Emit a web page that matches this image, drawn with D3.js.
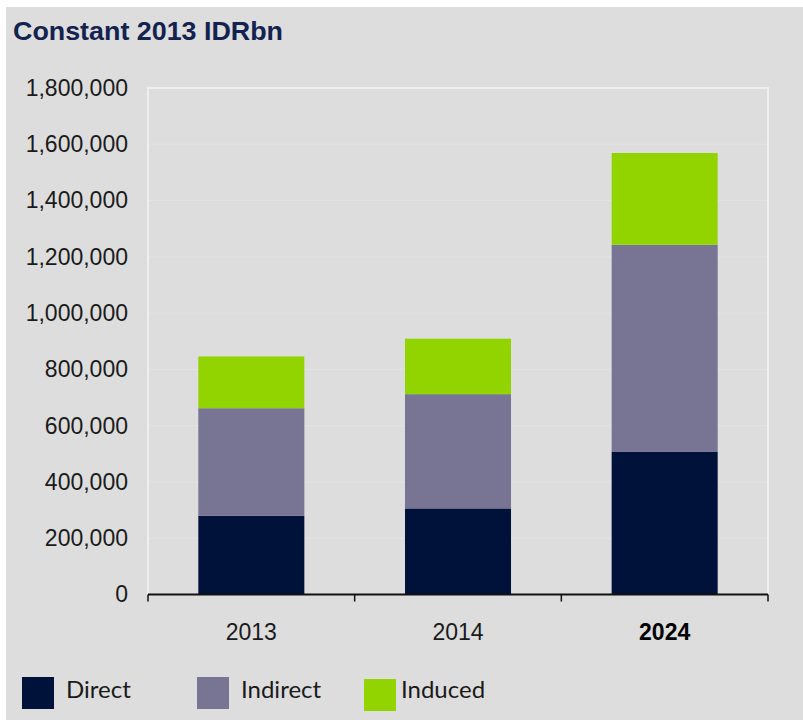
<!DOCTYPE html>
<html>
<head>
<meta charset="utf-8">
<script src="https://cdn.jsdelivr.net/npm/d3@7"></script>
<style>
  body { margin: 0; background: #fff; }
</style>
</head>
<body>
<div id="chart"></div>
<script>
// Values (IDR bn, constant 2013 prices)
const years = ["2013", "2014", "2024"];
const direct = [280000, 306000, 508000];
const indirect = [382000, 406000, 735000];
const induced = [184000, 197000, 326000];
const yTicks = [0, 200000, 400000, 600000, 800000, 1000000, 1200000, 1400000, 1600000, 1800000];

const seriesNames = ["Direct", "Indirect", "Induced"];
const colors = { Direct: "#00113a", Indirect: "#787494", Induced: "#92d400" };

const rows = years.map((y, i) => ({ year: y, Direct: direct[i], Indirect: indirect[i], Induced: induced[i] }));

const W = 803, H = 720;
const plot = { left: 148, right: 768, top: 88, bottom: 594.5 };

const svg = d3.select("#chart").append("svg")
  .attr("width", W)
  .attr("height", H);

// grey panel
svg.append("rect")
  .attr("x", 6).attr("y", 7)
  .attr("width", W - 6).attr("height", H - 7)
  .attr("fill", "#dddddd");

// title
svg.append("text")
  .attr("x", 13).attr("y", 40)
  .attr("font-family", "Liberation Sans, Arial, sans-serif")
  .attr("font-weight", "bold")
  .attr("font-size", 25)
  .attr("textLength", 270)
  .attr("lengthAdjust", "spacingAndGlyphs")
  .attr("fill", "#13224f")
  .text("Constant 2013 IDRbn");

const x = d3.scaleBand()
  .domain(years)
  .range([plot.left, plot.right])
  .paddingInner(0.487)
  .paddingOuter(0.2435);

const y = d3.scaleLinear()
  .domain([0, 1800000])
  .range([plot.bottom, plot.top]);

// faint gridlines
svg.append("g")
  .selectAll("line")
  .data(yTicks.slice(1))
  .enter().append("line")
  .attr("x1", plot.left).attr("x2", plot.right)
  .attr("y1", d => y(d)).attr("y2", d => y(d))
  .attr("stroke", "#e3e3e3")
  .attr("stroke-width", 1);

// light plot border (top, left, right)
svg.append("path")
  .attr("d", `M${plot.left},${plot.bottom} V${plot.top} H${plot.right} V${plot.bottom}`)
  .attr("fill", "none")
  .attr("stroke", "#efefef")
  .attr("stroke-width", 2);

// stacked bars
const stack = d3.stack().keys(seriesNames)(rows);

svg.append("g")
  .selectAll("g")
  .data(stack)
  .enter().append("g")
  .attr("fill", d => colors[d.key])
  .selectAll("rect")
  .data(d => d)
  .enter().append("rect")
  .attr("x", d => x(d.data.year))
  .attr("width", x.bandwidth())
  .attr("y", d => y(d[1]))
  .attr("height", d => y(d[0]) - y(d[1]));

// y axis labels (no axis line)
const yAxis = svg.append("g")
  .attr("transform", `translate(${plot.left},0)`)
  .call(d3.axisLeft(y).tickValues(yTicks).tickFormat(d3.format(",")).tickSize(0).tickPadding(20));
yAxis.select(".domain").remove();
yAxis.selectAll("text")
  .attr("font-family", "Liberation Sans, Arial, sans-serif")
  .attr("font-size", 23)
  .attr("fill", "#1a1a1a");

// x axis: baseline with ticks at category boundaries
const xAxis = svg.append("g");
xAxis.append("line")
  .attr("x1", plot.left).attr("x2", plot.right)
  .attr("y1", plot.bottom).attr("y2", plot.bottom)
  .attr("stroke", "#111").attr("stroke-width", 2);

const bounds = years.map(d => x(d) - x.step() * x.paddingInner() / 2).concat([plot.right]);
bounds[0] = plot.left;
xAxis.selectAll(".tick-mark")
  .data(bounds)
  .enter().append("line")
  .attr("class", "tick-mark")
  .attr("x1", d => d).attr("x2", d => d)
  .attr("y1", plot.bottom).attr("y2", plot.bottom + 7)
  .attr("stroke", "#111").attr("stroke-width", 1.5);

xAxis.selectAll(".year")
  .data(years)
  .enter().append("text")
  .attr("class", "year")
  .attr("x", d => x(d) + x.bandwidth() / 2)
  .attr("y", 640)
  .attr("text-anchor", "middle")
  .attr("font-family", "Liberation Sans, Arial, sans-serif")
  .attr("font-size", 23)
  .attr("font-weight", d => d === "2024" ? "bold" : "normal")
  .attr("fill", d => d === "2024" ? "#000" : "#1a1a1a")
  .text(d => d);

// legend
const legendPos = [
  { x: 22, y: 677, tx: 66 },
  { x: 197, y: 677, tx: 241 },
  { x: 364, y: 679, tx: 401 }
];

const legend = svg.append("g")
  .selectAll("g")
  .data(seriesNames)
  .enter().append("g");

legend.append("rect")
  .attr("x", (d, i) => legendPos[i].x)
  .attr("y", (d, i) => legendPos[i].y)
  .attr("width", 32).attr("height", 32)
  .attr("fill", d => colors[d]);

legend.append("text")
  .attr("x", (d, i) => legendPos[i].tx)
  .attr("y", 698)
  .attr("font-family", "Lato, 'Open Sans', sans-serif")
  .attr("font-size", 24)
  .attr("fill", "#1a1a1a")
  .text(d => d);
</script>
</body>
</html>
